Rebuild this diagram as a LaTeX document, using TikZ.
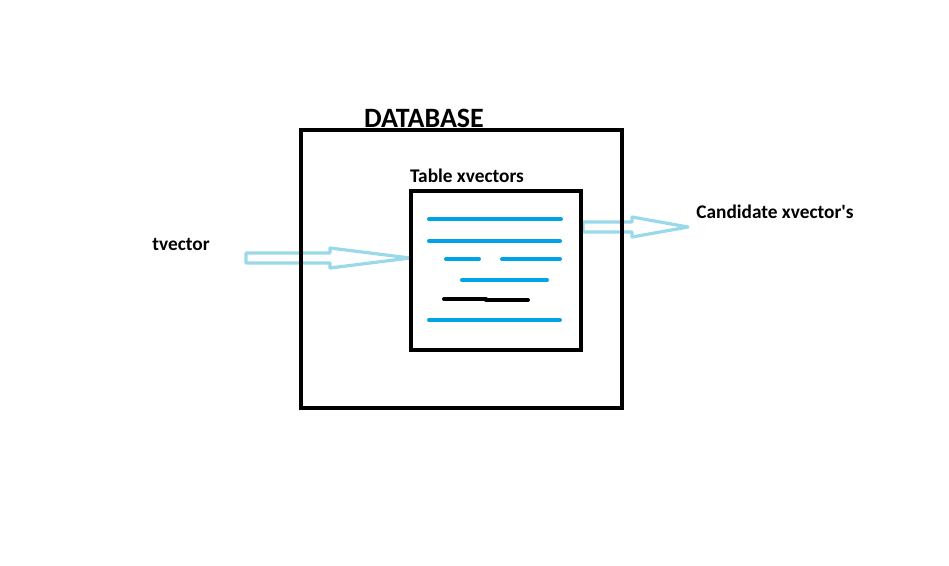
\documentclass[tikz,border=0pt]{standalone}
\usepackage{fontspec}
\setmainfont{Carlito}
\usetikzlibrary{calc}

\definecolor{paintblue}{RGB}{0,162,232}
\definecolor{paintlight}{RGB}{153,217,234}

\tikzset{
  boxline/.style={draw=black, line width=3.6pt, inner sep=0pt, outer sep=0pt},
  rowline/.style={line width=3pt, line cap=round},
  arrowline/.style={draw=paintlight, line width=2.4pt, line join=round},
  label/.style={font=\bfseries\fontsize{14.5}{17}\selectfont, inner sep=0pt}
}

% hollow arrow: tail, tip, head length
\newcommand{\hollowarrow}[3]{%
  \draw[arrowline] ($(#1)+(0,-5)$) -- ($(#2)+(-#3,-5)$) -- ($(#2)+(-#3,-10)$)
    -- (#2) -- ($(#2)+(-#3,10)$) -- ($(#2)+(-#3,5)$) -- ($(#1)+(0,5)$) -- cycle;}

\begin{document}
\begin{tikzpicture}[x=0.75pt, y=-0.75pt]
  \useasboundingbox (0,0) rectangle (949,565);

  % arrows first, boxes go over them
  \coordinate (intail) at (246,258);
  \coordinate (intip) at (410,258);
  \coordinate (outtail) at (583,227);
  \coordinate (outtip) at (688,227);
  \hollowarrow{intail}{intip}{80}
  \hollowarrow{outtail}{outtip}{56}

  \node[boxline, minimum width=240.75pt, minimum height=208.5pt] (database) at (461.5,269) {};
  \node[boxline, line width=3pt, minimum width=127.5pt, minimum height=119.25pt] (tablebox) at (496,270.5) {};

  \node[label, font=\bfseries\fontsize{21}{25}\selectfont] (dbtitle) at (424,118) {DATABASE};
  \node[label] (tabletitle) at (467,176) {Table xvectors};
  \node[label] (tvector) at (181,244) {tvector};
  \node[label] (candidates) at (775,212) {Candidate xvector\textquotesingle s};

  % rows of the table
  \draw[rowline, paintblue] (429,219) -- (561,219);
  \draw[rowline, paintblue] (429,241) -- (560,241);
  \draw[rowline, paintblue] (446,259) -- (479,259);
  \draw[rowline, paintblue] (502,259) -- (560,259);
  \draw[rowline, paintblue] (462,280) -- (547,280);
  \draw[rowline, black] (444,299) -- (486,299);
  \draw[rowline, black] (486,300) -- (528,300);
  \draw[rowline, paintblue] (429,320) -- (560,320);
\end{tikzpicture}
\end{document}
